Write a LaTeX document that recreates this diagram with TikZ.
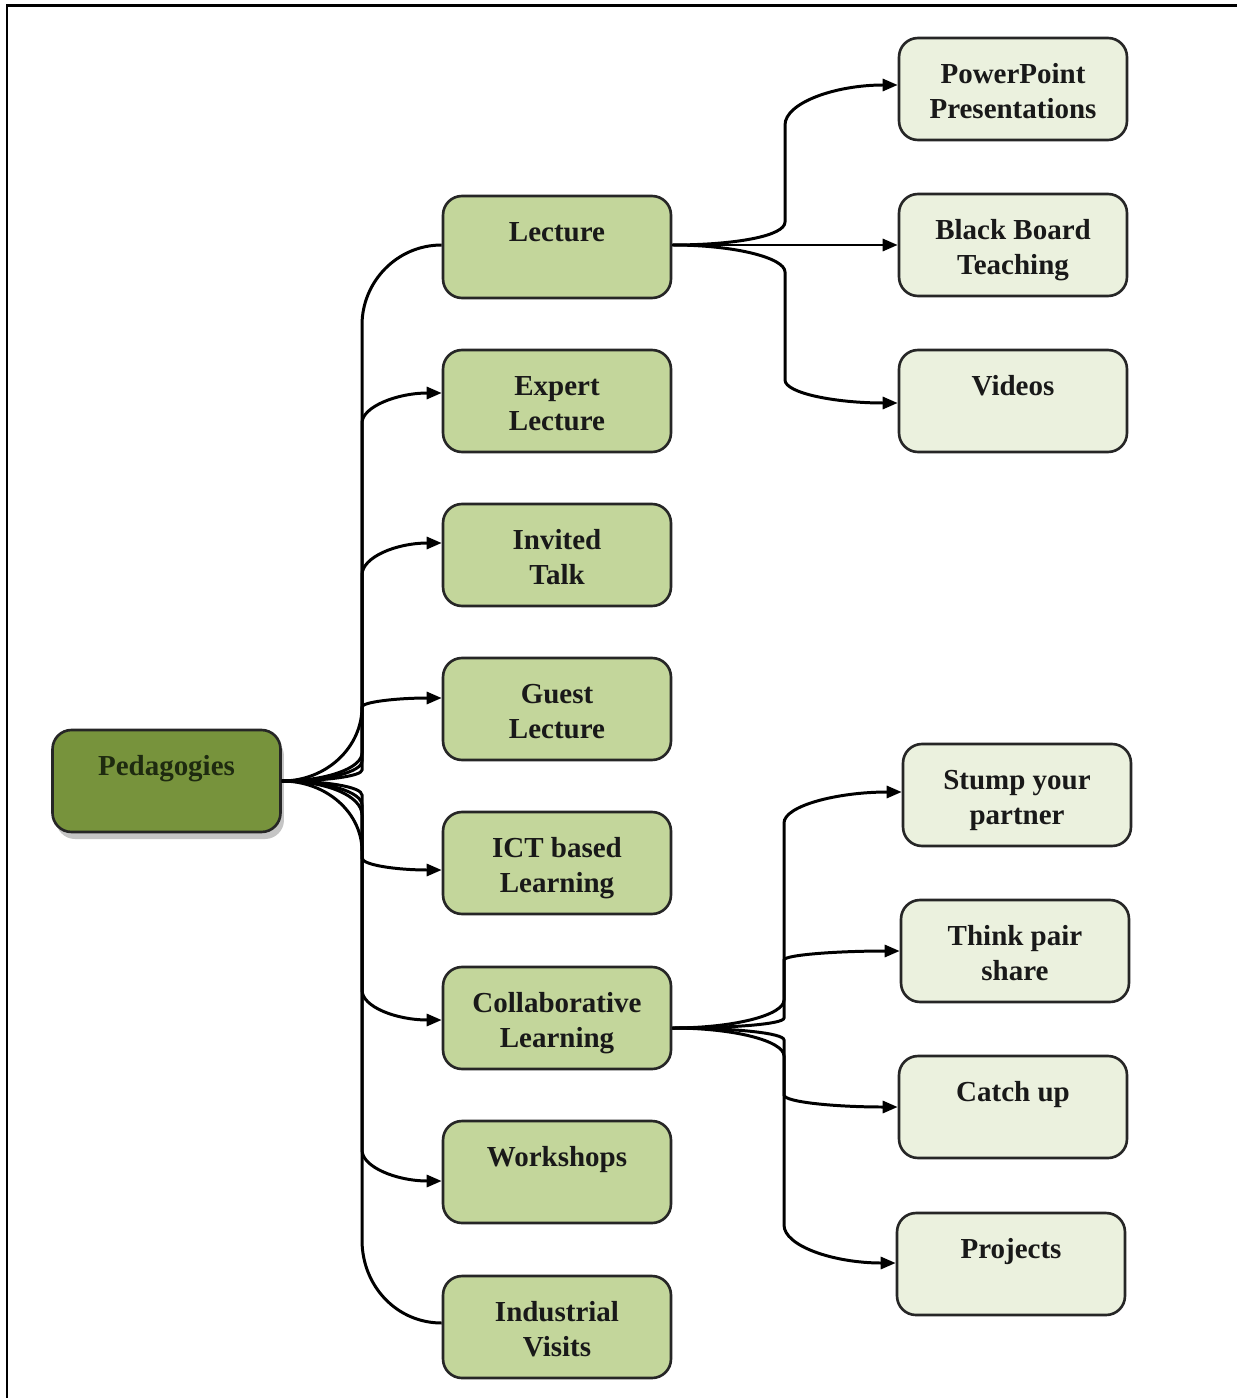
\documentclass[tikz,border=0pt]{standalone}
\usepackage{fontspec}
\setmainfont{Liberation Serif}
\usetikzlibrary{arrows.meta,calc,shadows}

\definecolor{rootfill}{HTML}{77933C}
\definecolor{midfill}{HTML}{C3D69B}
\definecolor{leaffill}{HTML}{EBF1DE}
\definecolor{boxline}{HTML}{262626}
\definecolor{roottext}{HTML}{1E2A10}

% first-line strut with extra head room, so the label sits near the top of its box
\newcommand\headstrut{\rule{0pt}{19.6pt}}

\begin{document}
\begin{tikzpicture}[x=0.02cm,y=-0.02cm,
  box/.style={draw=boxline, line width=1.5pt, rounded corners=0.38cm,
    minimum width=4.56cm, minimum height=2.04cm, align=center, inner sep=0pt,
    font=\fontsize{16.5}{20}\selectfont\bfseries, text=black!90},
  rootbox/.style={box, fill=rootfill, text=roottext,
    drop shadow={shadow xshift=2pt, shadow yshift=-4pt, fill=black!45, opacity=0.5}},
  midbox/.style={box, fill=midfill},
  leafbox/.style={box, fill=leaffill},
  link/.style={draw=black, line width=1.7pt},
  arr/.style={link, -{Triangle[length=0.3cm,width=0.24cm]}},
]

\useasboundingbox (0,0) rectangle (1237,1398);
\fill[white] (0,0) rectangle (1237,1398);

% page frame
\draw[line width=0.06cm] (7,1398) -- (7,6) -- (1237,6);

% root
\node[rootbox] (ped) at (166.5,781) {\headstrut Pedagogies\\\strut};

% middle column
\node[midbox] (lec) at (557,247)  {\headstrut Lecture\\\strut};
\node[midbox] (exp) at (557,401)  {\headstrut Expert\\\strut Lecture};
\node[midbox] (inv) at (557,555)  {\headstrut Invited\\\strut Talk};
\node[midbox] (gue) at (557,709)  {\headstrut Guest\\\strut Lecture};
\node[midbox] (ict) at (557,863)  {\headstrut ICT based\\\strut Learning};
\node[midbox] (col) at (557,1018) {\headstrut Collaborative\\\strut Learning};
\node[midbox] (wor) at (557,1172) {\headstrut Workshops\\\strut};
\node[midbox] (ind) at (557,1327) {\headstrut Industrial\\\strut Visits};

% right column
\node[leafbox] (ppt) at (1013,89)   {\headstrut PowerPoint\\\strut Presentations};
\node[leafbox] (bbt) at (1013,245)  {\headstrut Black Board\\\strut Teaching};
\node[leafbox] (vid) at (1013,401)  {\headstrut Videos\\\strut};
\node[leafbox] (stu) at (1017,795)  {\headstrut Stump your\\\strut partner};
\node[leafbox] (thi) at (1015,951)  {\headstrut Think pair\\\strut share};
\node[leafbox] (cat) at (1013,1107) {\headstrut Catch up\\\strut};
\node[leafbox] (pro) at (1011,1264) {\headstrut Projects\\\strut};

% trunk lines
\coordinate (tA) at (362,0);
\coordinate (tB) at (785,0);
\coordinate (tC) at (784,0);

% Pedagogies -> middle column
\draw[link] (ped.east) .. controls +(45,0) and +(0,6) .. ($(tA |- ped.east)+(0,-11)$)
  -- ($(tA |- lec.west)+(0,78)$) .. controls +(0,-43) and +(-45,0) .. ($(lec.west)+(0,-2)$);
\draw[arr] (ped.east) .. controls +(45,0) and +(0,11) .. ($(tA |- ped.east)+(0,-20)$)
  -- ($(tA |- exp.west)+(0,22)$) .. controls +(0,-16) and +(-45,0) .. ($(exp.west)+(0,-8)$);
\draw[arr] (ped.east) .. controls +(45,0) and +(0,15) .. ($(tA |- ped.east)+(0,-28)$)
  -- ($(tA |- inv.west)+(0,20)$) .. controls +(0,-18) and +(-45,0) .. ($(inv.west)+(0,-12)$);
\draw[arr] (ped.east) .. controls +(45,0) and +(0,40) .. ($(tA |- ped.east)+(0,-74)$)
  .. controls +(0,-5) and +(-45,0) .. ($(gue.west)+(0,-11)$);
\draw[arr] (ped.east) .. controls +(45,0) and +(0,-38) .. ($(tA |- ped.east)+(0,70)$)
  -- ($(tA |- ict.west)+(0,-5)$) .. controls +(0,7) and +(-45,0) .. ($(ict.west)+(0,7)$);
\draw[arr] (ped.east) .. controls +(45,0) and +(0,-19) .. ($(tA |- ped.east)+(0,34)$)
  -- ($(tA |- col.west)+(0,-28)$) .. controls +(0,17) and +(-45,0) .. ($(col.west)+(0,2)$);
\draw[arr] (ped.east) .. controls +(45,0) and +(0,-13) .. ($(tA |- ped.east)+(0,24)$)
  -- ($(tA |- wor.west)+(0,-22)$) .. controls +(0,17) and +(-45,0) .. ($(wor.west)+(0,9)$);
\draw[link] (ped.east) .. controls +(45,0) and +(0,-8) .. ($(tA |- ped.east)+(0,14)$)
  -- ($(tA |- ind.west)+(0,-87)$) .. controls +(0,46) and +(-45,0) .. ($(ind.west)+(0,-4)$);

% Lecture -> delivery modes
\draw[arr] ($(lec.east)+(0,-2)$) .. controls +(63,0) and +(0,14) .. ($(tB |- lec.east)+(0,-25)$)
  -- ($(tB |- ppt.west)+(0,36)$) .. controls +(0,-22) and +(-63,0) .. ($(ppt.west)+(0,-4)$);
\draw[arr] ($(lec.east)+(0,-2)$) -- (bbt.west);
\draw[arr] ($(lec.east)+(0,-2)$) .. controls +(63,0) and +(0,-14) .. ($(tB |- lec.east)+(0,25)$)
  -- ($(tB |- vid.west)+(0,-21)$) .. controls +(0,13) and +(-63,0) .. ($(vid.west)+(0,2)$);

% Collaborative Learning -> activities
\draw[arr] ($(col.east)+(0,10)$) .. controls +(62,0) and +(0,15) .. ($(tC |- col.east)+(0,-18)$)
  -- ($(tC |- stu.west)+(0,28)$) .. controls +(0,-17) and +(-65,0) .. ($(stu.west)+(0,-3)$);
\draw[arr] ($(col.east)+(0,10)$) .. controls +(62,0) and +(0,6) .. ($(tC |- col.east)+(0,0)$)
  -- ($(tC |- thi.west)+(0,9)$) .. controls +(0,-5) and +(-64,0) .. (thi.west);
\draw[arr] ($(col.east)+(0,10)$) .. controls +(62,0) and +(0,-7) .. ($(tC |- col.east)+(0,22)$)
  -- ($(tC |- cat.west)+(0,-12)$) .. controls +(0,7) and +(-63,0) .. (cat.west);
\draw[arr] ($(col.east)+(0,10)$) .. controls +(62,0) and +(0,-15) .. ($(tC |- col.east)+(0,38)$)
  -- ($(tC |- pro.west)+(0,-39)$) .. controls +(0,21) and +(-62,0) .. ($(pro.west)+(0,-1)$);

\end{tikzpicture}
\end{document}
